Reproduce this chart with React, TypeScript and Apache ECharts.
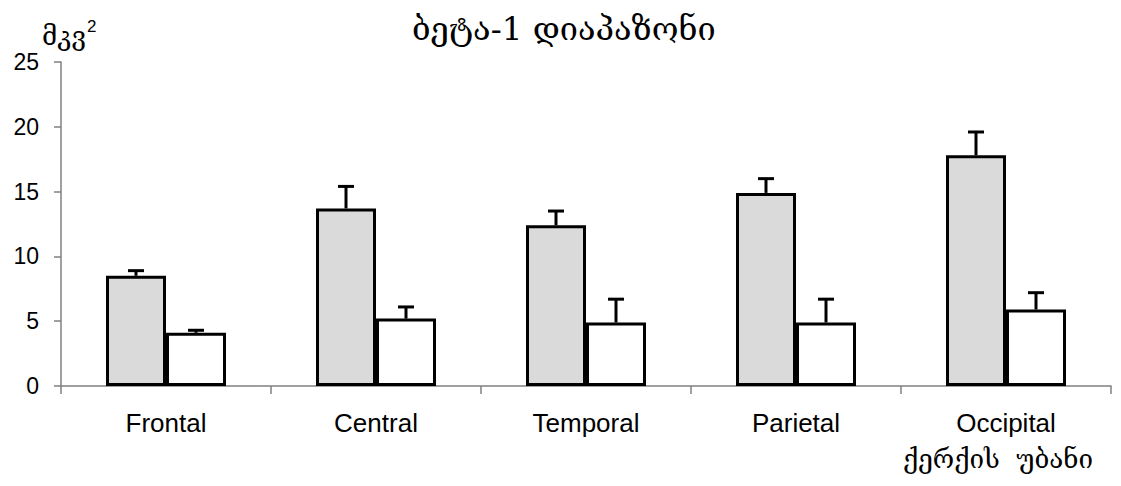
import React, { useEffect, useRef } from "react";
import * as echarts from "echarts";

const categories = ["Frontal", "Central", "Temporal", "Parietal", "Occipital"];
const grayValues = [8.5, 13.7, 12.4, 14.9, 17.8];
const grayErrTop = [8.9, 15.4, 13.5, 16.0, 19.6];
const whiteValues = [4.1, 5.2, 4.9, 4.9, 5.9];
const whiteErrTop = [4.3, 6.1, 6.7, 6.7, 7.2];
const yTicks = [0, 5, 10, 15, 20, 25];

const BAR_W = 60;

export default function App() {
  const ref = useRef<HTMLDivElement>(null);
  useEffect(() => {
    const chart = echarts.init(ref.current!, null, { renderer: "svg" });
    const errData: number[][] = [];
    categories.forEach((_, i) => {
      errData.push([i, grayValues[i], grayErrTop[i], -1]);
      errData.push([i, whiteValues[i], whiteErrTop[i], 1]);
    });
    chart.setOption({
      animation: false,
      backgroundColor: "#fff",
      grid: { left: 61, right: 10, top: 62, bottom: 100 },
      title: {
        text: "ბეტა-1 დიაპაზონი",
        left: 407,
        top: 7,
        textStyle: { fontFamily: "DejaVu Serif", fontSize: 32.5, fontWeight: "normal", color: "#000" },
      },
      graphic: [
        {
          type: "text",
          left: 42,
          top: 18,
          style: {
            text: "მკვ{s|2}",
            rich: { s: { fontSize: 17, verticalAlign: "top", padding: [0, 0, 18, 1], fontFamily: "Liberation Sans" } },
            font: "26px 'DejaVu Serif'",
            fill: "#000",
          },
        },
        {
          type: "text",
          left: 903,
          top: 446,
          style: { text: "ქერქის  უბანი", font: "26px 'DejaVu Serif'", fill: "#000" },
        },
      ],
      xAxis: {
        type: "category",
        data: categories,
        axisLine: { lineStyle: { color: "#808080", width: 1.5 } },
        axisTick: { show: true, length: 8, lineStyle: { color: "#808080", width: 1.5 } },
        axisLabel: { fontFamily: "Liberation Sans", fontSize: 26, color: "#000", margin: 24 },
      },
      yAxis: {
        type: "value",
        min: yTicks[0],
        max: yTicks[yTicks.length - 1],
        interval: 5,
        splitLine: { show: false },
        axisLine: { show: true, lineStyle: { color: "#808080", width: 1.5 } },
        axisTick: { show: true, length: 7, lineStyle: { color: "#808080", width: 1.5 } },
        axisLabel: { fontFamily: "Liberation Sans", fontSize: 23, color: "#000", margin: 22 },
      },
      series: [
        {
          type: "bar",
          data: grayValues,
          barWidth: BAR_W,
          barGap: "0%",
          itemStyle: { color: "#dadada", borderColor: "#000", borderWidth: 3 },
        },
        {
          type: "bar",
          data: whiteValues,
          barWidth: BAR_W,
          barGap: "0%",
          itemStyle: { color: "#fff", borderColor: "#000", borderWidth: 3 },
        },
        {
          type: "custom",
          data: errData,
          z: 10,
          renderItem: (params: any, api: any) => {
            const cat = api.value(0);
            const side = api.value(3);
            const base = api.coord([cat, api.value(1)]);
            const top = api.coord([cat, api.value(2)]);
            const x = base[0] + (side * BAR_W) / 2;
            const style = { stroke: "#000", lineWidth: 3 };
            return {
              type: "group",
              children: [
                { type: "line", shape: { x1: x, y1: base[1], x2: x, y2: top[1] }, style },
                { type: "line", shape: { x1: x - 8, y1: top[1], x2: x + 8, y2: top[1] }, style },
              ],
            };
          },
        },
      ],
    });
    return () => chart.dispose();
  }, []);
  return <div ref={ref} style={{ width: 1121, height: 486, position: "absolute", left: 0, top: 0 }} />;
}
